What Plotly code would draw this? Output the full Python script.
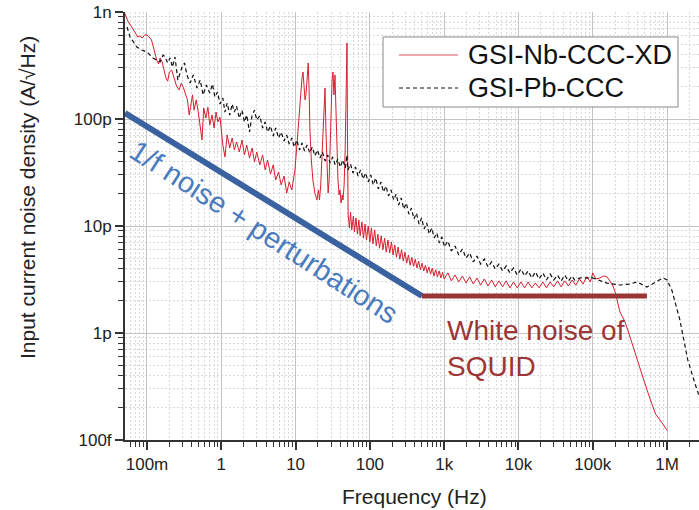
import numpy as np
import plotly.graph_objects as go

# ---------------- data (frequency in Hz, noise density in pA/sqrt(Hz)) ----------------
nb_freq = [0.05, 0.053, 0.056, 0.06, 0.065, 0.07, 0.075, 0.08, 0.086, 0.093, 0.1, 0.107, 0.115, 0.125,
           0.135, 0.143, 0.15, 0.16, 0.17, 0.18, 0.19, 0.2, 0.215, 0.23, 0.25, 0.27, 0.29, 0.31, 0.33, 0.35,
           0.37, 0.39, 0.41, 0.43, 0.46, 0.49, 0.52, 0.55, 0.58, 0.62, 0.66, 0.7, 0.75, 0.8, 0.85, 0.9, 0.96,
           1.0, 1.05, 1.12, 1.2, 1.3, 1.4, 1.5, 1.6, 1.75, 1.9, 2.05, 2.2, 2.4, 2.6, 2.8, 3.0, 3.3, 3.6, 3.9,
           4.2, 4.6, 5.0, 5.4, 5.9, 6.4, 7.0, 7.6, 8.2, 8.9, 9.4, 9.8, 10.3, 10.8, 11.3, 11.8, 12.2, 12.6,
           13.0, 13.4, 13.8, 14.3, 14.8, 15.2, 15.6, 16.3, 17.1, 18.2, 19.4, 20.3, 21.0, 21.8, 22.6, 23.5,
           24.3, 24.9, 25.6, 26.5, 27.4, 28.3, 29.0, 30.0, 31.0, 31.9, 32.8, 33.9, 35.0, 36.0, 37.2, 38.5,
           39.6, 41.0, 42.5, 43.5, 45.0, 46.5, 47.7, 48.5, 49.2, 49.8, 50.4,
           51, 53, 55, 57, 60, 62, 65, 68, 71, 74, 78, 82, 86, 90, 95, 100, 105, 110, 116, 122, 128, 135,
           142, 150, 158, 166, 175, 185, 195, 205, 216, 228, 240, 253, 267, 282, 297, 313, 330, 348, 367,
           387, 408, 430, 453, 478, 504, 531, 560, 590, 622, 656, 692, 730, 770, 812, 856, 903, 952, 1000,
           1120, 1250, 1400, 1570, 1760, 1970, 2200, 2470, 2760, 3100, 3470, 3890, 4350, 4870, 5460, 6110,
           6840, 7660, 8580, 9610, 10800, 12100, 13500, 15100, 16900, 19000, 21300, 23800, 26700, 29900,
           33500, 37500, 42000, 47000, 52700, 59000, 66100, 74000, 82900, 92800, 100000,
           110000, 125000, 140000, 155000, 170000, 187000, 200000, 212000, 232000, 271000, 320000, 370000,
           440000, 504000, 560000, 627000, 700000, 802000, 900000, 1000000]
nb_noise = [979, 898, 806, 756, 694, 636, 584, 597, 571, 610, 610, 584, 547, 441,
            356, 327, 372, 341, 287, 242, 226, 275, 287, 242, 203, 187, 217, 195, 168, 151,
            109, 135, 168, 121, 151, 116, 87.9, 63.6, 127, 102, 129, 87.9, 109, 82.4, 116, 93.8, 104,
            78.9, 57.1, 44.2, 70.9, 53.6, 66.4, 51.3, 61.0, 49.2, 63.6, 46.1, 57.1, 43.2, 53.6, 39.6, 49.2, 37.2, 46.1, 33.4,
            41.4, 30.6, 37.2, 26.9, 32.0, 24.2, 29.3, 20.3, 25.8, 21.7, 28.1, 33.4, 51.3, 82.4, 135, 208, 242, 275,
            187, 151, 168, 258, 334, 187, 78.9, 41.4, 26.9, 20.3, 17.5, 21.7, 17.5, 24.2, 41.4, 97.9,
            168, 195, 78.9, 33.4, 20.3, 26.9, 51.3, 121, 231, 275, 168, 258, 121, 51.3, 26.9, 19.5,
            21.7, 16.4, 19.5, 17.5, 24.2, 51.3, 151, 356, 513, 97.9, 17.5,
            12.9, 9.6, 13.5, 9.2, 12.4, 8.8, 11.9, 8.4, 11.4, 8.1, 10.9, 7.7, 10.4, 7.4, 10.0, 7.1, 9.6, 6.8, 9.2, 6.5, 8.4, 6.2,
            8.1, 6.0, 7.7, 5.7, 7.4, 5.6, 7.1, 5.35, 6.65, 5.1, 6.35, 4.9, 6.0, 4.7, 5.7, 4.5, 5.35, 4.3, 5.1,
            4.2, 4.9, 4.05, 4.7, 3.9, 4.5, 3.8, 4.3, 3.65, 4.15, 3.55, 4.05, 3.4, 3.9, 3.35, 3.8, 3.27, 3.7, 3.2,
            3.65, 3.07, 3.49, 3.0, 3.41, 2.93, 3.35, 2.87, 3.27, 2.8, 3.2, 2.75, 3.13, 2.7, 3.07, 2.7,
            3.07, 2.64, 3.0, 2.64, 3.0, 2.64, 3.0, 2.64, 2.93, 2.64, 3.0, 2.64, 3.0, 2.7,
            3.07, 2.7, 3.07, 2.75, 3.13, 2.8, 3.2, 2.87, 3.35, 3.0, 3.65,
            3.2, 3.27, 3.41, 3.35, 3.07, 2.75, 2.42, 2.03, 1.58, 1.28, 0.92, 0.66,
            0.45, 0.33, 0.27, 0.215, 0.175, 0.154, 0.135, 0.123]

pb_freq = [0.054, 0.059, 0.066, 0.073, 0.085, 0.1, 0.12, 0.135, 0.15, 0.165, 0.175, 0.19, 0.204, 0.22,
           0.238, 0.26, 0.28, 0.296, 0.32, 0.345,
           0.38, 0.42, 0.47, 0.52, 0.57, 0.63, 0.7, 0.76, 0.82, 0.89, 0.96, 1.05, 1.12, 1.2, 1.3, 1.4, 1.5,
           1.6, 1.75, 1.9, 2.05, 2.2, 2.4, 2.6, 2.8, 3.0, 3.3, 3.6, 3.9, 4.2, 4.6, 5.0, 5.4, 5.9, 6.4, 7.0,
           7.6, 8.2, 8.9, 9.6, 10.4, 11.3, 12.2, 13.2, 14.3, 15.5, 16.8, 18.2, 19.7, 21.3, 23.0, 25.0, 27.0,
           29.2, 31.6, 34.2, 37.0, 40.0, 43.3, 46.8, 49.2, 50.6, 54.8, 59.3, 64.0, 69.3, 75.0, 81.0, 87.7,
           94.9, 103, 111, 120, 130, 141, 152, 165, 178, 193, 209, 226, 244, 264, 286, 309, 335, 362, 392,
           424, 459, 497, 537, 581, 629, 680, 736, 796, 861, 932, 1010, 1120, 1250, 1400, 1570, 1760, 1970,
           2200, 2470, 2760, 3100, 3470, 3890, 4350, 4870, 5460, 6110, 6840, 7660, 8580, 9610, 10800,
           12100, 13500, 15100, 16900, 19000, 21300, 23800, 26700, 29900, 33500, 37500, 42000, 47000,
           52700, 57000,
           67000, 100000, 155000, 232000, 320000, 393000, 536000, 700000, 881000, 1000000, 1160000,
           1490000, 1900000, 2400000, 2690000]
pb_noise = [724, 584, 524, 471, 441, 423, 372, 356, 341, 396, 380, 334, 372, 306,
            380, 231, 275, 306, 334, 258,
            217, 258, 195, 231, 168, 208, 175, 212, 161, 179, 138, 157, 116, 141, 109, 138, 116,
            132, 102, 121, 93.8, 109, 75.6, 109, 121, 97.9, 107, 82.4, 93.8, 75.6, 86.0, 69.4, 82.4, 66.4, 75.6, 62.3,
            70.9, 58.4, 66.4, 54.7, 63.6, 51.3, 59.7, 50.2, 57.1, 48.1, 54.7, 45.1, 51.3, 43.2, 49.2, 40.5, 46.1,
            38.8, 44.2, 37.2, 42.3, 35.6, 41.4, 34.8, 46.1, 33.4, 38.0, 31.3, 35.6, 29.3, 33.4, 27.5, 31.3,
            25.8, 30.0, 24.2, 28.1, 22.2, 25.8, 20.8, 23.6, 19.1, 21.7, 17.5, 19.9, 15.7, 18.3, 14.4, 16.4, 12.9, 14.7, 11.6,
            13.2, 10.4, 11.9, 9.38, 10.7, 8.42, 9.58, 7.73, 8.60, 6.94, 7.89, 6.37, 7.24, 5.84, 6.50, 5.36, 6.10, 5.02,
            5.59, 4.61, 5.24, 4.41, 4.92, 4.14, 4.61, 3.96, 4.41, 3.80, 4.23, 3.64, 4.05, 3.48, 3.96,
            3.41, 3.80, 3.27, 3.72, 3.20, 3.64, 3.13, 3.56, 3.13, 3.48, 3.06, 3.48, 3.06,
            3.41, 3.13,
            3.27, 3.27, 2.93, 2.81, 2.87, 3.0, 2.69, 3.0, 3.27, 3.13, 2.52,
            1.32, 0.56, 0.33, 0.26]

# guide lines (frequency in Hz, density in pA/sqrt(Hz))
onef_freq = [0.0506, 502]
onef_noise = [113.8, 2.22]
white_freq = [502, 536000]
white_noise = [2.22, 2.22]

series_names = ["GSI-Nb-CCC-XD", "GSI-Pb-CCC"]
x_ticks = [0.1, 1, 10, 100, 1e3, 1e4, 1e5, 1e6]
x_ticklabels = ["100m", "1", "10", "100", "1k", "10k", "100k", "1M"]
y_ticks = [1e-9, 1e-10, 1e-11, 1e-12, 1e-13]
y_ticklabels = ["1n", "100p", "10p", "1p", "100f"]
minor_mult = [2, 3, 4, 5, 6, 7, 8, 9]

x_minor = [d * m for d in [0.01] + x_ticks for m in minor_mult]
y_minor = [d * m for d in [1e-14] + y_ticks for m in minor_mult]

PICO = 1e-12
FONT = "Liberation Sans, Arial, sans-serif"

# plot-area geometry in pixels (used only to place the hand-drawn legend box)
L, R, T, B = 125, 699, 12, 440
def px(xp):
    return (xp - L) / (R - L)
def py(yp):
    return (B - yp) / (B - T)

fig = go.Figure()
fig.add_trace(go.Scatter(x=nb_freq, y=np.array(nb_noise) * PICO, mode="lines", name=series_names[0],
                         showlegend=False, line=dict(color="#d81f2e", width=1)))
fig.add_trace(go.Scatter(x=pb_freq, y=np.array(pb_noise) * PICO, mode="lines", name=series_names[1],
                         showlegend=False, line=dict(color="#111111", width=1.2, dash="4px,3px")))
fig.add_trace(go.Scatter(x=onef_freq, y=np.array(onef_noise) * PICO, mode="lines", showlegend=False,
                         line=dict(color="#3b62a0", width=6)))
fig.add_trace(go.Scatter(x=white_freq, y=np.array(white_noise) * PICO, mode="lines", showlegend=False,
                         line=dict(color="#993535", width=5)))

axis_common = dict(
    type="log", showline=True, linecolor="#333333", linewidth=2,
    ticks="outside", ticklen=8, tickwidth=1.5, tickcolor="#333333",
    showgrid=True, gridcolor="#c4c4c4", gridwidth=1, zeroline=False,
    tickfont=dict(family=FONT, size=17, color="#222222"),
)
minor_common = dict(tickmode="array", ticks="outside", ticklen=5, tickwidth=1, tickcolor="#333333",
                    showgrid=True, gridcolor="#d9d9d9", griddash="2px,2px", gridwidth=1)

fig.update_xaxes(range=[-1.296, 6.43], tickvals=x_ticks, ticktext=x_ticklabels,
                 minor=dict(tickvals=x_minor, **minor_common), **axis_common)
fig.update_yaxes(range=[-13, -9], tickvals=y_ticks, ticktext=y_ticklabels,
                 minor=dict(tickvals=y_minor, **minor_common), **axis_common)

legend_rows = [(55, "#e0505e", "solid", 1.0), (88, "#111111", "4px,3px", 1.0)]
shapes = [dict(type="rect", xref="paper", yref="paper", x0=px(383), x1=px(678), y0=py(107), y1=py(37),
               line=dict(color="#888888", width=1), fillcolor="white", layer="above")]
legend_ann = []
for (yy, col, dash, w), name in zip(legend_rows, series_names):
    shapes.append(dict(type="line", xref="paper", yref="paper", x0=px(399), x1=px(458), y0=py(yy), y1=py(yy),
                       line=dict(color=col, width=w, dash=dash), layer="above"))
    legend_ann.append(dict(text=name, xref="paper", yref="paper", x=px(466), y=py(yy), showarrow=False,
                           xanchor="left", yanchor="middle", font=dict(family=FONT, size=27, color="#111111")))

fig.update_layout(
    width=699, height=510,
    margin=dict(l=L, r=699 - R, t=T, b=510 - B),
    plot_bgcolor="white", paper_bgcolor="white",
    font=dict(family=FONT, color="#222222"),
    showlegend=False,
    shapes=shapes,
    annotations=legend_ann + [
        dict(text="Frequency (Hz)", xref="paper", yref="paper", x=px(414), y=py(496),
             showarrow=False, font=dict(family=FONT, size=21, color="#222222"),
             xanchor="center", yanchor="middle"),
        dict(text="Input current noise density (A/\u221aHz)", xref="paper", yref="paper",
             x=px(27), y=py(198), textangle=-90, showarrow=False,
             font=dict(family=FONT, size=21, color="#222222"), xanchor="center", yanchor="middle"),
        dict(text="1/f noise + perturbations", xref="paper", yref="paper",
             x=px(264), y=py(232), textangle=32.8, showarrow=False,
             font=dict(family=FONT, size=29, color="#4a7bbd"), xanchor="center", yanchor="middle"),
        dict(text="White noise of<br>SQUID", xref="paper", yref="paper",
             x=px(445), y=py(348), showarrow=False, align="left",
             font=dict(family=FONT, size=28, color="#9e3535"), xanchor="left", yanchor="middle"),
    ],
)

fig.write_html("out.html")
